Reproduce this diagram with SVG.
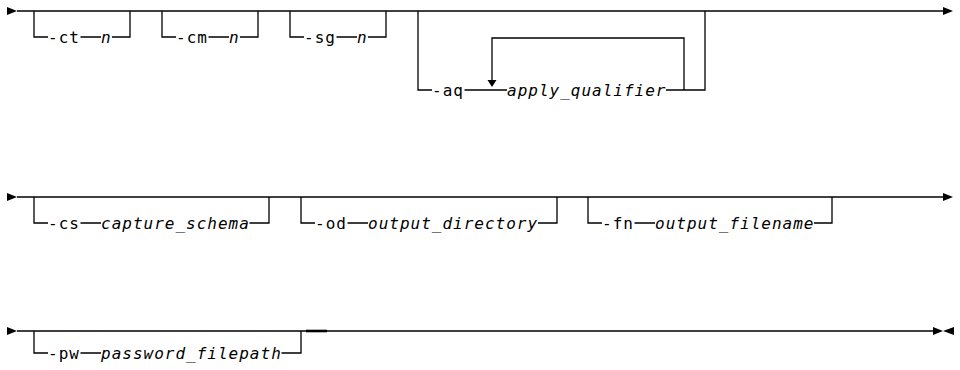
<svg xmlns="http://www.w3.org/2000/svg" width="960" height="370" viewBox="0 0 960 370">
<style>
.ln{stroke:#000;stroke-width:1.3;fill:none}
.thick{stroke:#000;stroke-width:2.6;fill:none}
.ah{fill:#000;stroke:none}
.t{font-family:"DejaVu Sans Mono","Liberation Mono",monospace;font-size:16px;letter-spacing:1px;fill:#000}
.v{font-style:italic}
</style>
<rect width="960" height="370" fill="#fff"/>
<g id="connectors">
<path class="ln" d="M17,11 H943"/>
<path class="ah" d="M7,7 L17,11 L7,15 Z"/>
<path class="ah" d="M943,7 L953,11 L943,15 Z"/>
<path class="ln" d="M17,197 H943"/>
<path class="ah" d="M7,193 L17,197 L7,201 Z"/>
<path class="ah" d="M943,193 L953,197 L943,201 Z"/>
<path class="ln" d="M17,331 H933"/>
<path class="thick" d="M306,331 H327"/>
<path class="ah" d="M7,327 L17,331 L7,335 Z"/>
<path class="ah" d="M933,327 L943,331 L933,335 Z"/>
<path class="ah" d="M954,327 L943,331 L954,335 Z"/>
</g>
<g id="opt-ct">
<path class="ln" d="M34,11 V37 H48 M80.5,37 H101 M112,37 H130 V11"/>
<text class="t" x="48" y="42.5">-ct</text>
<text class="t v" x="101" y="42.5">n</text>
</g>
<g id="opt-cm">
<path class="ln" d="M162,11 V37 H176 M208.5,37 H229 M240,37 H258 V11"/>
<text class="t" x="176" y="42.5">-cm</text>
<text class="t v" x="229" y="42.5">n</text>
</g>
<g id="opt-sg">
<path class="ln" d="M290,11 V37 H304 M336.5,37 H357 M368,37 H386 V11"/>
<text class="t" x="304" y="42.5">-sg</text>
<text class="t v" x="357" y="42.5">n</text>
</g>
<g id="opt-aq">
<path class="ln" d="M418,11 V90 H432 M464.5,90 H507 M666,90 H705 V11 M684,90 V38 H492 V80"/>
<path class="ah" d="M487.5,80 L496.5,80 L492,87 Z"/>
<text class="t" x="432" y="95.5">-aq</text>
<text class="t v" x="507" y="95.5">apply_qualifier</text>
</g>
<g id="opt-cs">
<path class="ln" d="M34,197 V223 H48 M80.5,223 H101 M249.5,223 H269 V197"/>
<text class="t" x="48" y="228.5">-cs</text>
<text class="t v" x="101" y="228.5">capture_schema</text>
</g>
<g id="opt-od">
<path class="ln" d="M301,197 V223 H315 M347.5,223 H368 M538,223 H557 V197"/>
<text class="t" x="315" y="228.5">-od</text>
<text class="t v" x="368" y="228.5">output_directory</text>
</g>
<g id="opt-fn">
<path class="ln" d="M588,197 V223 H602 M634.5,223 H655 M814,223 H832 V197"/>
<text class="t" x="602" y="228.5">-fn</text>
<text class="t v" x="655" y="228.5">output_filename</text>
</g>
<g id="opt-pw">
<path class="ln" d="M34,331 V353 H48 M80.5,353 H101 M281.5,353 H301 V331"/>
<text class="t" x="48" y="358.5">-pw</text>
<text class="t v" x="101" y="358.5">password_filepath</text>
</g>
</svg>
